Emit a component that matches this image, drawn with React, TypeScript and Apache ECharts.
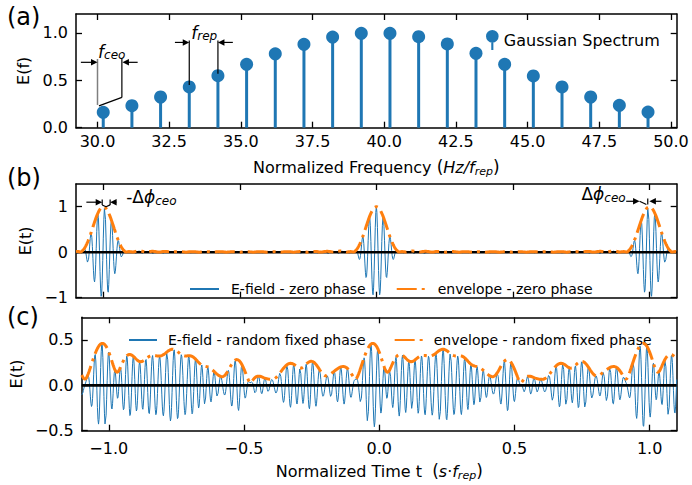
import React, { useEffect, useRef } from 'react';
import * as echarts from 'echarts';

const FONT = 'DejaVu Sans';
const BLUE = '#1f77b4';
const ORANGE = '#ff7f0e';

// ---- panel (a): comb lines of the Gaussian spectrum ----
const combFreqs = [30.2, 31.2, 32.2, 33.2, 34.2, 35.2, 36.2, 37.2, 38.2, 39.2, 40.2, 41.2, 42.2, 43.2, 44.2, 45.2, 46.2, 47.2, 48.2, 49.2];
const combAmps = [0.162, 0.232, 0.324, 0.43, 0.549, 0.669, 0.78, 0.88, 0.957, 0.996, 0.996, 0.961, 0.884, 0.785, 0.669, 0.546, 0.43, 0.324, 0.236, 0.165];
const freqTicks = [30, 32.5, 35, 37.5, 40, 42.5, 45, 47.5, 50];
const specTicks = [0, 0.5, 1.0];

// ---- panels (b),(c): time axis ----
const timeTicks = [-1, -0.5, 0, 0.5, 1];
const fieldTicksB = [-1, 0, 1];
const fieldTicksC = [-0.5, 0, 0.5];
const T0 = -1.1;
const T1 = 1.1;
const DT = 0.002;

// envelope of panel (c) (t, value)
const envReadT = [-1.097, -1.087, -1.062, -1.032, -1.013, -0.989, -0.959, -0.934, -0.904, -0.867, -0.83, -0.794, -0.751, -0.714, -0.672, -0.653, -0.623, -0.598, -0.58, -0.549, -0.525, -0.501, -0.476, -0.452, -0.415, -0.391, -0.366, -0.33, -0.293, -0.256, -0.22, -0.196, -0.171, -0.134, -0.104, -0.086, -0.061, -0.031, -0.006, 0.018, 0.043, 0.085, 0.134, 0.171, 0.207, 0.244, 0.281, 0.317, 0.348, 0.378, 0.403, 0.427, 0.464, 0.5, 0.519, 0.549, 0.586, 0.604, 0.641, 0.671, 0.708, 0.745, 0.781, 0.812, 0.842, 0.873, 0.91, 0.94, 0.971, 0.995, 1.019, 1.05, 1.087];
const envReadV = [0.105, 0.03, 0.21, 0.45, 0.4, 0.31, 0.19, 0.3, 0.31, 0.29, 0.32, 0.36, 0.38, 0.33, 0.29, 0.21, 0.19, 0.16, 0.05, 0.25, 0.28, 0.17, 0.05, 0.09, 0.09, 0.05, 0.14, 0.23, 0.2, 0.27, 0.18, 0.1, 0.16, 0.22, 0.1, 0.04, 0.32, 0.45, 0.38, 0.15, 0.25, 0.32, 0.31, 0.3, 0.36, 0.38, 0.32, 0.31, 0.22, 0.19, 0.15, 0.05, 0.27, 0.2, 0.07, 0.1, 0.08, 0.05, 0.2, 0.23, 0.18, 0.25, 0.17, 0.11, 0.18, 0.23, 0.11, 0.32, 0.45, 0.38, 0.19, 0.25, 0.32];

const SUM_A = combAmps.reduce((a, b) => a + b, 0);
const normAmps = combAmps.map((a) => a / SUM_A);

// Phase retrieval (Gerchberg-Saxton) so that the comb with fixed phases reproduces the read envelope
function retrievePhases(): number[] {
  const K = normAmps.length;
  const N = 200;
  const pts = envReadT
    .map((t, i) => [t - Math.floor(t), envReadV[i]])
    .sort((a, b) => a[0] - b[0]);
  const ext = [[pts[pts.length - 1][0] - 1, pts[pts.length - 1][1]], ...pts, [pts[0][0] + 1, pts[0][1]]];
  const target = new Float64Array(N);
  for (let j = 0; j < N; j++) {
    const tj = j / N;
    let i = 0;
    while (i < ext.length - 2 && ext[i + 1][0] < tj) i++;
    const [ta, va] = ext[i];
    const [tb, vb] = ext[i + 1];
    target[j] = tb - ta > 1e-9 ? va + ((vb - va) * (tj - ta)) / (tb - ta) : va;
  }
  const Cs = new Float64Array(K * N);
  const Sn = new Float64Array(K * N);
  for (let k = 0; k < K; k++)
    for (let j = 0; j < N; j++) {
      const ang = (2 * Math.PI * k * j) / N;
      Cs[k * N + j] = Math.cos(ang);
      Sn[k * N + j] = Math.sin(ang);
    }
  let bestErr = Infinity;
  let best: number[] = new Array(K).fill(0);
  const qr = new Float64Array(N);
  const qi = new Float64Array(N);
  for (let s = 0; s < 16; s++) {
    const cr = new Float64Array(K);
    const ci = new Float64Array(K);
    for (let k = 0; k < K; k++) {
      const x = 0.6180339 * (s + 1) * (k + 1) + 0.4142135 * (k + 1) * (k + 1) * ((s % 3) + 1);
      const ph = 2 * Math.PI * (x - Math.floor(x));
      cr[k] = normAmps[k] * Math.cos(ph);
      ci[k] = normAmps[k] * Math.sin(ph);
    }
    let err = 0;
    for (let it = 0; it < 500; it++) {
      err = 0;
      for (let j = 0; j < N; j++) {
        let re = 0;
        let im = 0;
        for (let k = 0; k < K; k++) {
          const c = Cs[k * N + j];
          const sn = Sn[k * N + j];
          re += cr[k] * c - ci[k] * sn;
          im += cr[k] * sn + ci[k] * c;
        }
        const m = Math.hypot(re, im) || 1e-9;
        err += (m - target[j]) * (m - target[j]);
        qr[j] = (target[j] * re) / m;
        qi[j] = (target[j] * im) / m;
      }
      for (let k = 0; k < K; k++) {
        let br = 0;
        let bi = 0;
        for (let j = 0; j < N; j++) {
          const c = Cs[k * N + j];
          const sn = Sn[k * N + j];
          br += qr[j] * c + qi[j] * sn;
          bi += qi[j] * c - qr[j] * sn;
        }
        const m = Math.hypot(br, bi) || 1e-9;
        cr[k] = (normAmps[k] * br) / m;
        ci[k] = (normAmps[k] * bi) / m;
      }
    }
    if (err < bestErr) {
      bestErr = err;
      best = Array.from({ length: K }, (_, k) => Math.atan2(ci[k], cr[k]));
    }
  }
  return best;
}

function synth(phases: number[]) {
  const field: number[][] = [];
  const env: number[][] = [];
  const n = Math.round((T1 - T0) / DT);
  for (let i = 0; i <= n; i++) {
    const t = +(T0 + i * DT).toFixed(4);
    let re = 0;
    let im = 0;
    for (let k = 0; k < combFreqs.length; k++) {
      const ang = 2 * Math.PI * combFreqs[k] * t + phases[k];
      re += normAmps[k] * Math.cos(ang);
      im += normAmps[k] * Math.sin(ang);
    }
    field.push([t, re]);
    env.push([t, Math.hypot(re, im)]);
  }
  return { field, env };
}

const minus = (s: string) => s.replace('-', '\u2212');
const fmt1 = (v: number) => minus((Math.abs(v) < 1e-9 ? 0 : v).toFixed(1));
const fmt0 = (v: number) => minus((Math.abs(v) < 1e-9 ? 0 : v).toFixed(0));

function valueAxis(opts: any) {
  const { ticks, min, max, gridIndex, position, labels, formatter, margin, name, nameGap, nameRotate, nameTextStyle } = opts;
  return {
    type: 'value',
    gridIndex,
    position,
    min,
    max,
    name,
    nameLocation: 'middle',
    nameGap,
    nameRotate,
    nameTextStyle,
    axisLine: { show: true, onZero: false, lineStyle: { color: '#000', width: 1.5 } },
    axisTick: { show: true, inside: true, length: 6, customValues: ticks, lineStyle: { color: '#000', width: 1.3 } },
    axisLabel: {
      show: labels,
      customValues: ticks,
      formatter,
      margin: margin ?? 8,
      fontSize: 16,
      fontFamily: FONT,
      color: '#000',
    },
    splitLine: { show: false },
  };
}

const subRich = {
  n: { fontSize: 16, fontFamily: FONT, color: '#000' },
  p: { fontSize: 17, fontFamily: FONT, color: '#000' },
  i: { fontSize: 16, fontFamily: FONT, fontStyle: 'italic', color: '#000' },
  s: { fontSize: 11, fontFamily: FONT, fontStyle: 'italic', color: '#000', padding: [8, 0, 0, 0] },
};

export default function App() {
  const ref = useRef<HTMLDivElement>(null);
  useEffect(() => {
    if (!ref.current) return;
    const chart = echarts.init(ref.current, undefined, { renderer: 'svg' });
    const zero = synth(combFreqs.map(() => 0));
    const rnd = synth(retrievePhases());
    const stems = combFreqs.map((f, i) => [f, combAmps[i]]);
    const zeroLine = [
      [T0, 0],
      [T1, 0],
    ];

    const grids = [
      { left: 76, top: 14, width: 600.7, height: 113.7 },
      { left: 76, top: 184, width: 600.7, height: 113.7 },
      { left: 76, top: 317.3, width: 600.7, height: 113.4 },
    ];

    const xAxis = [
      valueAxis({
        gridIndex: 0, position: 'bottom', min: 29.25, max: 50.2, ticks: freqTicks, labels: true, formatter: fmt1, margin: 6,
        name: '{n|Normalized Frequency }{p|(}{i|Hz/f}{s|rep}{p|)}', nameGap: 30, nameTextStyle: { rich: subRich },
      }),
      valueAxis({ gridIndex: 1, position: 'bottom', min: T0, max: T1, ticks: timeTicks, labels: false }),
      valueAxis({
        gridIndex: 2, position: 'bottom', min: T0, max: T1, ticks: timeTicks, labels: true, formatter: fmt1, margin: 10,
        name: '{n|Normalized Time t  }{p|(}{i|s}{n|\u00b7}{i|f}{s|rep}{p|)}', nameGap: 31, nameTextStyle: { rich: subRich },
      }),
      valueAxis({ gridIndex: 0, position: 'top', min: 29.25, max: 50.2, ticks: freqTicks, labels: false }),
      valueAxis({ gridIndex: 1, position: 'top', min: T0, max: T1, ticks: timeTicks, labels: false }),
      valueAxis({ gridIndex: 2, position: 'top', min: T0, max: T1, ticks: timeTicks, labels: false }),
    ];
    const yName = { fontSize: 16, fontFamily: FONT, color: '#000' };
    const yAxis = [
      valueAxis({ gridIndex: 0, position: 'left', min: 0, max: 1.2, ticks: specTicks, labels: true, formatter: fmt1, margin: 8, name: 'E(f)', nameGap: 28, nameRotate: 90, nameTextStyle: yName }),
      valueAxis({ gridIndex: 1, position: 'left', min: -1, max: 1.5, ticks: fieldTicksB, labels: true, formatter: fmt0, margin: 8, name: 'E(t)', nameGap: 28, nameRotate: 90, nameTextStyle: yName }),
      valueAxis({ gridIndex: 2, position: 'left', min: -0.5, max: 0.75, ticks: fieldTicksC, labels: true, formatter: fmt1, margin: 8, name: 'E(t)', nameGap: 28, nameRotate: 90, nameTextStyle: yName }),
      valueAxis({ gridIndex: 0, position: 'right', min: 0, max: 1.2, ticks: specTicks, labels: false }),
      valueAxis({ gridIndex: 1, position: 'right', min: -1, max: 1.5, ticks: fieldTicksB, labels: false }),
      valueAxis({ gridIndex: 2, position: 'right', min: -0.5, max: 0.75, ticks: fieldTicksC, labels: false }),
    ];

    const dashDot = [20, 5, 3, 5];
    const series: any[] = [
      { name: 'stems', type: 'bar', xAxisIndex: 0, yAxisIndex: 0, data: stems, barWidth: 3, itemStyle: { color: BLUE }, z: 2 },
      { name: 'Gaussian Spectrum', type: 'scatter', xAxisIndex: 0, yAxisIndex: 0, data: stems, symbolSize: 13, itemStyle: { color: BLUE, opacity: 1 }, z: 3 },
      { name: 'E-field - zero phase', type: 'line', xAxisIndex: 1, yAxisIndex: 1, data: zero.field, showSymbol: false, symbol: 'none', lineStyle: { color: BLUE, width: 1 }, itemStyle: { color: BLUE }, z: 2 },
      { name: 'zeroB', type: 'line', xAxisIndex: 1, yAxisIndex: 1, data: zeroLine, showSymbol: false, symbol: 'none', lineStyle: { color: '#000', width: 2.6 }, z: 3 },
      { name: 'envelope - zero phase', type: 'line', xAxisIndex: 1, yAxisIndex: 1, data: zero.env, showSymbol: false, symbol: 'none', lineStyle: { color: ORANGE, width: 3, type: dashDot }, itemStyle: { color: ORANGE }, z: 4 },
      { name: 'E-field - random fixed phase', type: 'line', xAxisIndex: 2, yAxisIndex: 2, data: rnd.field, showSymbol: false, symbol: 'none', lineStyle: { color: BLUE, width: 1 }, itemStyle: { color: BLUE }, z: 2 },
      { name: 'zeroC', type: 'line', xAxisIndex: 2, yAxisIndex: 2, data: zeroLine, showSymbol: false, symbol: 'none', lineStyle: { color: '#000', width: 2.6 }, z: 3 },
      { name: 'envelope - random fixed phase', type: 'line', xAxisIndex: 2, yAxisIndex: 2, data: rnd.env, showSymbol: false, symbol: 'none', lineStyle: { color: ORANGE, width: 3, type: dashDot }, itemStyle: { color: ORANGE }, z: 4 },
    ];

    const legendText = (size: number, padLeft: number) => ({ fontSize: size, fontFamily: FONT, color: '#000', padding: [0, 0, 0, padLeft] });
    const noSym = { opacity: 0 };
    const legend = [
      {
        data: [{ name: 'Gaussian Spectrum', icon: 'path://M0,6A6,6,0,1,1,12,6A6,6,0,1,1,0,6ZM5,9L7,9L7,19L5,19Z' }],
        left: 481, top: 25, itemWidth: 13, itemHeight: 20, textStyle: legendText(16, 0), selectedMode: false,
      },
      {
        data: [
          { name: 'E-field - zero phase', itemStyle: noSym },
          { name: 'envelope - zero phase', itemStyle: noSym },
        ],
        left: 184, top: 277, itemWidth: 29, itemHeight: 14, itemGap: 30, textStyle: legendText(14, 7), selectedMode: false,
      },
      {
        data: [
          { name: 'E-field - random fixed phase', itemStyle: noSym },
          { name: 'envelope - random fixed phase', itemStyle: noSym },
        ],
        left: 123, top: 328, itemWidth: 28, itemHeight: 14, itemGap: 28, textStyle: legendText(14, 6), selectedMode: false,
      },
    ];

    chart.setOption({ animation: false, grid: grids, xAxis, yAxis, series, legend });

    // ---- annotations placed in data coordinates ----
    const px = (g: number, x: number, y: number) => chart.convertToPixel({ xAxisIndex: g, yAxisIndex: g }, [x, y]) as number[];
    const els: any[] = [];
    const line = (g: number, x1: number, y1: number, x2: number, y2: number, color = '#000', w = 1.2) => {
      const a = px(g, x1, y1);
      const b = px(g, x2, y2);
      els.push({ type: 'line', silent: true, z: 100, shape: { x1: a[0], y1: a[1], x2: b[0], y2: b[1] }, style: { stroke: color, lineWidth: w } });
    };
    const arrow = (g: number, x1: number, y1: number, x2: number, y2: number) => {
      const a = px(g, x1, y1);
      const b = px(g, x2, y2);
      const dx = b[0] - a[0];
      const dy = b[1] - a[1];
      const L = Math.hypot(dx, dy) || 1;
      const ux = dx / L;
      const uy = dy / L;
      const hl = 6.5;
      const hw = 3.2;
      els.push({ type: 'line', silent: true, z: 100, shape: { x1: a[0], y1: a[1], x2: b[0] - ux * hl * 0.5, y2: b[1] - uy * hl * 0.5 }, style: { stroke: '#000', lineWidth: 1.2 } });
      els.push({
        type: 'polygon', silent: true, z: 100,
        shape: { points: [[b[0], b[1]], [b[0] - ux * hl - uy * hw, b[1] - uy * hl + ux * hw], [b[0] - ux * hl + uy * hw, b[1] - uy * hl - ux * hw]] },
        style: { fill: '#000' },
      });
    };
    const mathText = (g: number, x: number, y: number, text: string, align: string) => {
      const p = px(g, x, y);
      els.push({
        type: 'text', silent: true, z: 100, x: p[0], y: p[1],
        style: {
          text, align, verticalAlign: 'middle',
          rich: {
            m: { fontSize: 17, fontFamily: FONT, fontStyle: 'italic', fill: '#000' },
            u: { fontSize: 17, fontFamily: FONT, fill: '#000' },
            s: { fontSize: 12, fontFamily: FONT, fontStyle: 'italic', fill: '#000', padding: [7, 0, 0, 0] },
          },
        },
      });
    };

    // f_ceo
    line(0, 30.0, 0.725, 30.0, 0.24, '#7f7f7f', 1.5);
    line(0, 30.85, 0.725, 30.85, 0.32);
    line(0, 30.85, 0.32, 30.05, 0.23);
    arrow(0, 29.42, 0.69, 30.0, 0.69);
    arrow(0, 31.4, 0.69, 30.87, 0.69);
    mathText(0, 30.02, 0.8, '{m|f}{s|ceo}', 'left');
    // f_rep
    line(0, 33.2, 0.92, 33.2, 0.45);
    line(0, 34.2, 0.92, 34.2, 0.57);
    arrow(0, 32.7, 0.9, 33.2, 0.9);
    arrow(0, 34.72, 0.9, 34.2, 0.9);
    mathText(0, 33.27, 1.0, '{m|f}{s|rep}', 'left');
    // -delta phi ceo at t = -1
    arrow(1, -1.062, 1.1, -1.004, 1.1);
    line(1, -1.004, 1.16, -1.004, 1.04);
    line(1, -1.004, 1.04, -0.99, 1.0);
    line(1, -0.99, 1.0, -0.975, 1.04);
    line(1, -0.975, 1.16, -0.975, 1.04);
    arrow(1, -0.952, 1.1, -0.975, 1.1);
    mathText(1, -0.916, 1.205, '{u|-\u0394}{m|\u03d5}{s|ceo}', 'left');
    // delta phi ceo at t = +1
    mathText(1, 0.913, 1.27, '{u|\u0394}{m|\u03d5}{s|ceo}', 'right');
    arrow(1, 0.915, 1.12, 0.964, 1.12);
    line(1, 0.964, 1.12, 0.989, 1.05);
    line(1, 0.994, 1.18, 0.994, 1.05);
    arrow(1, 1.044, 1.12, 1.0, 1.12);

    // panel letters
    const letter = (t: string, y: number) => els.push({ type: 'text', silent: true, x: 7, y, style: { text: t, fontSize: 24, fontFamily: FONT, fill: '#000', align: 'left', verticalAlign: 'middle' } });
    letter('(a)', 17);
    letter('(b)', 178);
    letter('(c)', 317);

    chart.setOption({ graphic: els });
    return () => chart.dispose();
  }, []);
  return <div ref={ref} style={{ position: 'absolute', left: 0, top: 0, width: 692, height: 485 }} />;
}
